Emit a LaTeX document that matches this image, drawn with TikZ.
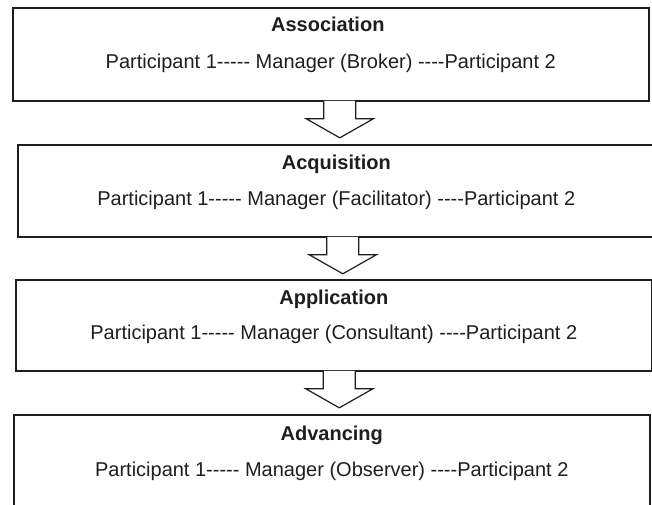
\documentclass[tikz,border=0pt]{standalone}
\usepackage{fontspec}
\setmainfont{Liberation Sans}
\usetikzlibrary{calc}
\definecolor{ink}{HTML}{1E1E1E}
\newcommand\hyr{-\kern0pt}
\begin{document}
\begin{tikzpicture}[x=1pt,y=-1pt,
  box/.style={draw=ink, line width=1.6pt, inner sep=0pt, anchor=north west},
  ttl/.style={font=\fontsize{20}{24}\bfseries\selectfont, text=ink, anchor=base, inner sep=0pt},
  txt/.style={font=\fontsize{20}{24}\selectfont, text=ink, anchor=base, inner sep=0pt},
  arrowline/.style={draw=ink, line width=1.2pt, line join=miter, fill=white},
  blockarrow/.pic={\path[arrowline] (-16,0) -- (-16,18) -- (-33.5,18) -- (0,37) -- (33.5,18) -- (16,18) -- (16,0);}]
\useasboundingbox (0,0) rectangle (652,504);
% boxes
\node[box, minimum width=636pt, minimum height=93pt] (b1) at (12,7) {};
\node[box, minimum width=637pt, minimum height=92pt] (b2) at (17,144) {};
\node[box, minimum width=636pt, minimum height=91pt] (b3) at (15,279) {};
\node[box, minimum width=636pt, minimum height=96pt] (b4) at (13,414) {};
% texts
\node[ttl] (t1) at ($(b1.north)+(-3,24.5)$) {Association};
\node[txt] (p1) at ($(b1.north)+(0,61.5)$) {Participant 1\hyr\hyr\hyr\hyr- Manager (Broker) \hyr\hyr\hyr-Participant 2};
\node[ttl] (t2) at ($(b2.north)+(0,25)$) {Acquisition};
\node[txt] (p2) at ($(b2.north)+(0,61.5)$) {Participant 1\hyr\hyr\hyr\hyr- Manager (Facilitator) \hyr\hyr\hyr-Participant 2};
\node[ttl] (t3) at ($(b3.north)+(0,25)$) {Application};
\node[txt] (p3) at ($(b3.north)+(0,60.5)$) {Participant 1\hyr\hyr\hyr\hyr- Manager (Consultant) \hyr\hyr\hyr-Participant 2};
\node[ttl] (t4) at ($(b4.north)+(0,26.5)$) {Advancing};
\node[txt] (p4) at ($(b4.north)+(0,62.5)$) {Participant 1\hyr\hyr\hyr\hyr- Manager (Observer) \hyr\hyr\hyr-Participant 2};
% block arrows
\pic at ($(b1.south)+(9,-0.8)$) {blockarrow};
\pic at ($(b2.south)+(6.5,-0.8)$) {blockarrow};
\pic at ($(b3.south)+(5.5,-0.8)$) {blockarrow};
\end{tikzpicture}
\end{document}
